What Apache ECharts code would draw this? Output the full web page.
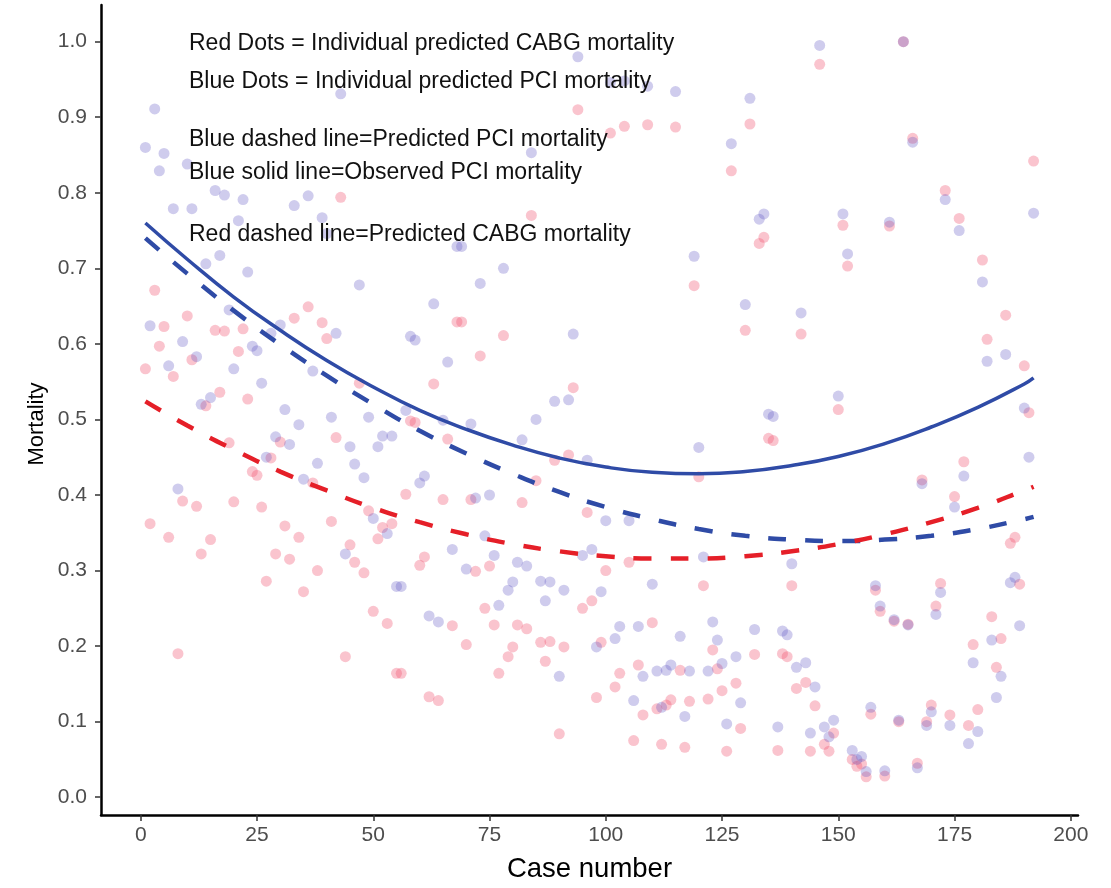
<!DOCTYPE html>
<html>
<head>
<meta charset="utf-8">
<script src="https://cdn.jsdelivr.net/npm/echarts@6/dist/echarts.min.js"></script>
<style>
  html, body { margin: 0; padding: 0; background: #ffffff; }
  #chart { width: 1111px; height: 888px; }
</style>
</head>
<body>
<div id="chart"></div>
<script>
// Individual predicted CABG mortality, case 1..192
const cabgPredicted = [
  0.567, 0.362, 0.671, 0.597, 0.623, 0.344, 0.557, 0.190, 0.392, 0.637,
  0.579, 0.385, 0.322, 0.518, 0.341, 0.618, 0.536, 0.617, 0.469, 0.391,
  0.590, 0.620, 0.527, 0.431, 0.426, 0.384, 0.286, 0.449, 0.322, 0.470,
  0.359, 0.315, 0.634, 0.344, 0.272, 0.649, 0.416, 0.300, 0.628, 0.607,
  0.365, 0.476, 0.794, 0.186, 0.334, 0.311, 0.548, 0.297, 0.379, 0.246,
  0.342, 0.357, 0.230, 0.362, 0.164, 0.164, 0.401, 0.498, 0.496, 0.307,
  0.318, 0.133, 0.547, 0.128, 0.394, 0.474, 0.227, 0.629, 0.629, 0.202,
  0.394, 0.299, 0.584, 0.250, 0.306, 0.228, 0.164, 0.611, 0.186, 0.199,
  0.228, 0.390, 0.223, 0.770, 0.419, 0.205, 0.180, 0.206, 0.446, 0.084,
  0.199, 0.453, 0.542, 0.910, 0.250, 0.377, 0.260, 0.132, 0.205, 0.300,
  0.879, 0.146, 0.164, 0.888, 0.311, 0.075, 0.175, 0.109, 0.890, 0.231,
  0.117, 0.070, 0.122, 0.129, 0.887, 0.168, 0.066, 0.127, 0.677, 0.424,
  0.280, 0.130, 0.195, 0.170, 0.141, 0.061, 0.829, 0.151, 0.091, 0.618,
  0.891, 0.189, 0.733, 0.741, 0.475, 0.472, 0.062, 0.190, 0.186, 0.280,
  0.144, 0.613, 0.152, 0.061, 0.121, 0.970, 0.070, 0.061, 0.085, 0.513,
  0.757, 0.703, 0.050, 0.041, 0.044, 0.027, 0.110, 0.274, 0.246, 0.028,
  0.756, 0.233, 0.100, 1.000, 0.229, 0.872, 0.045, 0.420, 0.100, 0.122,
  0.253, 0.283, 0.803, 0.109, 0.398, 0.766, 0.444, 0.095, 0.202, 0.116,
  0.711, 0.606, 0.239, 0.172, 0.210, 0.638, 0.336, 0.344, 0.282, 0.571,
  0.509, 0.842
];

// Individual predicted PCI mortality, case 1..192
const pciPredicted = [
  0.860, 0.624, 0.911, 0.829, 0.852, 0.571, 0.779, 0.408, 0.603, 0.838,
  0.779, 0.583, 0.520, 0.706, 0.529, 0.803, 0.717, 0.797, 0.645, 0.567,
  0.763, 0.791, 0.695, 0.597, 0.591, 0.548, 0.450, 0.614, 0.477, 0.625,
  0.513, 0.467, 0.783, 0.493, 0.421, 0.796, 0.564, 0.442, 0.767, 0.746,
  0.503, 0.614, 0.931, 0.322, 0.464, 0.441, 0.678, 0.423, 0.503, 0.369,
  0.464, 0.478, 0.349, 0.478, 0.279, 0.279, 0.512, 0.610, 0.605, 0.416,
  0.425, 0.240, 0.653, 0.232, 0.499, 0.576, 0.328, 0.729, 0.729, 0.302,
  0.494, 0.396, 0.680, 0.346, 0.400, 0.320, 0.254, 0.700, 0.274, 0.285,
  0.311, 0.473, 0.306, 0.853, 0.500, 0.286, 0.260, 0.285, 0.524, 0.160,
  0.274, 0.526, 0.613, 0.980, 0.320, 0.446, 0.328, 0.199, 0.272, 0.366,
  0.946, 0.210, 0.226, 0.948, 0.366, 0.128, 0.226, 0.160, 0.941, 0.282,
  0.167, 0.119, 0.168, 0.175, 0.934, 0.213, 0.107, 0.167, 0.716, 0.463,
  0.318, 0.167, 0.232, 0.208, 0.177, 0.097, 0.865, 0.186, 0.125, 0.652,
  0.925, 0.222, 0.765, 0.772, 0.507, 0.504, 0.093, 0.220, 0.215, 0.309,
  0.172, 0.641, 0.178, 0.085, 0.146, 0.995, 0.093, 0.080, 0.102, 0.531,
  0.772, 0.719, 0.062, 0.050, 0.054, 0.034, 0.119, 0.280, 0.253, 0.035,
  0.761, 0.235, 0.102, 1.000, 0.228, 0.867, 0.039, 0.415, 0.095, 0.113,
  0.242, 0.271, 0.791, 0.095, 0.384, 0.750, 0.425, 0.071, 0.178, 0.087,
  0.682, 0.577, 0.208, 0.132, 0.160, 0.586, 0.284, 0.291, 0.227, 0.515,
  0.450, 0.773
];

// Fitted mortality curves, sampled along case number: [case, mortality]
const pciObservedCurve = [
  [1, 0.760], [10, 0.712], [20, 0.662], [30, 0.618], [40, 0.578], [50, 0.543],
  [60, 0.512], [70, 0.487], [80, 0.466], [90, 0.449], [100, 0.437], [110, 0.430],
  [120, 0.428], [130, 0.431], [140, 0.439], [150, 0.451], [160, 0.468], [170, 0.490],
  [180, 0.516], [190, 0.547], [192, 0.555]
];
const pciPredictedCurve = [
  [1, 0.740], [10, 0.693], [20, 0.644], [30, 0.599], [40, 0.558], [50, 0.520],
  [60, 0.485], [70, 0.455], [80, 0.428], [90, 0.404], [100, 0.384], [110, 0.368],
  [120, 0.355], [130, 0.346], [140, 0.341], [150, 0.339], [160, 0.341], [170, 0.346],
  [180, 0.355], [190, 0.368], [192, 0.371]
];
const cabgPredictedCurve = [
  [1, 0.524], [10, 0.492], [20, 0.460], [30, 0.431], [40, 0.406], [50, 0.383],
  [60, 0.364], [70, 0.348], [80, 0.335], [90, 0.3255], [100, 0.319], [110, 0.316],
  [120, 0.316], [130, 0.319], [140, 0.3255], [150, 0.335], [160, 0.348], [170, 0.364],
  [180, 0.383], [190, 0.406], [192, 0.411]
];

const xTicks = [0, 25, 50, 75, 100, 125, 150, 175, 200];
const yTicks = [0.0, 0.1, 0.2, 0.3, 0.4, 0.5, 0.6, 0.7, 0.8, 0.9, 1.0];

const noteLines = [
  'Red Dots = Individual predicted CABG mortality',
  'Blue Dots = Individual predicted PCI mortality',
  'Blue dashed line=Predicted PCI mortality',
  'Blue solid line=Observed PCI mortality',
  'Red dashed line=Predicted CABG mortality'
];
const noteRows = [42.5, 80, 138, 171.5, 233.5];

const FONT = '"Liberation Sans", Arial, Helvetica, sans-serif';
const BLUE_LINE = '#2F4BA6';
const RED_LINE = '#E51F28';

const toPoints = vals => vals.map((v, i) => [i + 1, v]);

const chart = echarts.init(document.getElementById('chart'), null, { renderer: 'canvas' });

const notes = noteLines.map((t, i) => ({
  type: 'text',
  left: 189,
  top: noteRows[i] - 10,
  z: 10,
  style: { text: t, fill: '#111111', font: '23px ' + FONT }
}));

// vertical axis title
notes.push({
  type: 'text',
  x: 37,
  y: 424,
  rotation: Math.PI / 2,
  z: 10,
  style: {
    text: 'Mortality',
    fill: '#000000',
    font: '22px ' + FONT,
    align: 'center',
    verticalAlign: 'middle'
  }
});

chart.setOption({
  backgroundColor: '#ffffff',
  animation: false,
  textStyle: { fontFamily: FONT },
  grid: { left: 101, right: 33, top: 5, bottom: 65, containLabel: false },
  xAxis: {
    type: 'value',
    min: -8.55,
    max: 201.55,
    name: 'Case number',
    nameLocation: 'middle',
    nameGap: 40,
    nameTextStyle: { color: '#000000', fontSize: 27.5, fontFamily: FONT },
    axisLine: { show: true, onZero: false, lineStyle: { color: '#000000', width: 2.5 } },
    axisTick: { show: true, length: 6, lineStyle: { color: '#333333', width: 1.5 }, customValues: xTicks },
    axisLabel: { color: '#4D4D4D', fontSize: 21, margin: 10, fontFamily: FONT, customValues: xTicks },
    splitLine: { show: false }
  },
  yAxis: {
    type: 'value',
    min: -0.0235,
    max: 1.0485,
    axisLine: { show: true, onZero: false, lineStyle: { color: '#000000', width: 2.5 } },
    axisTick: { show: true, length: 6, lineStyle: { color: '#333333', width: 1.5 }, customValues: yTicks },
    axisLabel: {
      color: '#4D4D4D', fontSize: 21, margin: 14, fontFamily: FONT,
      customValues: yTicks,
      formatter: v => Number(v).toFixed(1)
    },
    splitLine: { show: false }
  },
  series: [
    {
      name: 'CABG individual',
      type: 'scatter',
      data: toPoints(cabgPredicted),
      symbol: 'circle',
      symbolSize: 11,
      itemStyle: { color: 'rgba(240, 80, 110, 0.42)' },
      z: 2
    },
    {
      name: 'PCI individual',
      type: 'scatter',
      data: toPoints(pciPredicted),
      symbol: 'circle',
      symbolSize: 11,
      itemStyle: { color: 'rgba(90, 79, 192, 0.36)' },
      z: 3
    },
    {
      name: 'Observed PCI',
      type: 'line',
      data: pciObservedCurve,
      smooth: true,
      showSymbol: false,
      lineStyle: { color: BLUE_LINE, width: 3.5, cap: 'butt' },
      z: 5
    },
    {
      name: 'Predicted PCI',
      type: 'line',
      data: pciPredictedCurve,
      smooth: true,
      showSymbol: false,
      lineStyle: { color: BLUE_LINE, width: 4.5, type: [18, 19], cap: 'butt' },
      z: 5
    },
    {
      name: 'Predicted CABG',
      type: 'line',
      data: cabgPredictedCurve,
      smooth: true,
      showSymbol: false,
      lineStyle: { color: RED_LINE, width: 4.5, type: [18, 19], cap: 'butt' },
      z: 6
    }
  ],
  graphic: notes
});
</script>
</body>
</html>
